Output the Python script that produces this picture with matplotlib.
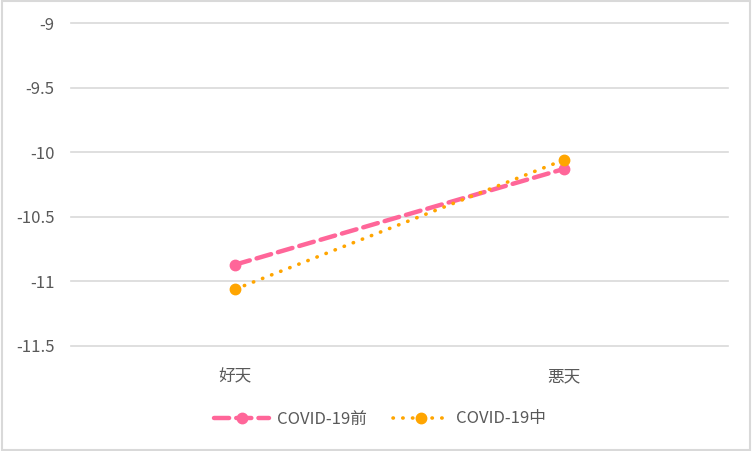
import matplotlib.pyplot as plt
from matplotlib.patches import Rectangle

plt.rcParams["font.family"] = ["Noto Sans CJK JP", "DejaVu Sans"]

categories = ["好天", "悪天"]
before_vals = [-10.87, -10.13]
during_vals = [-11.06, -10.06]
series_names = ["COVID-19前", "COVID-19中"]
y_ticks = [-11.5, -11, -10.5, -10, -9.5, -9]
y_tick_labels = ["-11.5", "-11", "-10.5", "-10", "-9.5", "-9"]

text_color = "#595959"
grid_color = "#d9d9d9"

fig = plt.figure(figsize=(7.52, 4.51), dpi=100)
ax = fig.add_axes([71 / 752, 105 / 451, 657 / 752, 323 / 451])

x = [0, 1]
ax.plot(x, before_vals, color="#ff6699", linestyle=(0, (3.4, 1.6)), linewidth=3.2,
        marker="o", markersize=7.5, label=series_names[0], solid_capstyle="round",
        dash_capstyle="round")
ax.plot(x, during_vals, color="#ffa500", linestyle=(0, (0.1, 2.6)), linewidth=2.6,
        marker="o", markersize=7.5, label=series_names[1], dash_capstyle="round")

ax.set_xlim(-0.5, 1.5)
ax.set_ylim(-11.5, -9)
ax.set_yticks(y_ticks)
ax.set_yticklabels(y_tick_labels)
ax.set_xticks(x)
ax.set_xticklabels(categories)
ax.grid(axis="y", color=grid_color, linewidth=1.2)
for gl in ax.get_ygridlines():
    gl.set_clip_on(False)
ax.set_axisbelow(True)
for s in ax.spines.values():
    s.set_visible(False)
ax.tick_params(axis="both", length=0, colors=text_color, labelsize=12)
ax.tick_params(axis="y", pad=12)
ax.tick_params(axis="x", pad=16)

leg = fig.legend(loc="center", bbox_to_anchor=(380 / 752, 1 - 419 / 451), ncol=2,
                 frameon=False, fontsize=12, handlelength=3.3, columnspacing=1.6,
                 handletextpad=0.45)
for t in leg.get_texts():
    t.set_color(text_color)

fig.patches.append(Rectangle((0.002, 0.003), 0.996, 0.994, transform=fig.transFigure,
                             fill=False, edgecolor=grid_color, linewidth=1.5))

fig.savefig("out.png", dpi=100)
